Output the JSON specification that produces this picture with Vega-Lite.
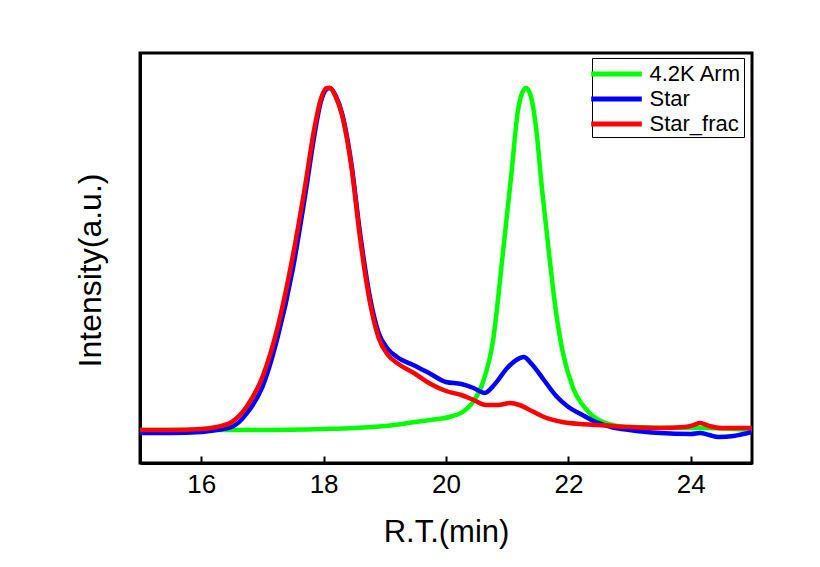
{
  "$schema": "https://vega.github.io/schema/vega-lite/v6.json",
  "width": 612,
  "height": 410,
  "autosize": "none",
  "padding": {"left": 140, "top": 53, "right": 68, "bottom": 104},
  "background": "white",
  "config": {
    "view": {"stroke": "black", "strokeWidth": 3},
    "font": "Liberation Sans"
  },
  "data": {
    "values": [
      {"t": 15.0, "s": "4.2K Arm", "v": 33},
      {"t": 16.0, "s": "4.2K Arm", "v": 33},
      {"t": 17.0, "s": "4.2K Arm", "v": 33},
      {"t": 18.0, "s": "4.2K Arm", "v": 34},
      {"t": 18.5, "s": "4.2K Arm", "v": 35},
      {"t": 19.0, "s": "4.2K Arm", "v": 37},
      {"t": 19.5, "s": "4.2K Arm", "v": 41},
      {"t": 19.75, "s": "4.2K Arm", "v": 43},
      {"t": 20.05, "s": "4.2K Arm", "v": 46},
      {"t": 20.27, "s": "4.2K Arm", "v": 51},
      {"t": 20.43, "s": "4.2K Arm", "v": 60},
      {"t": 20.6, "s": "4.2K Arm", "v": 80},
      {"t": 20.77, "s": "4.2K Arm", "v": 123},
      {"t": 20.93, "s": "4.2K Arm", "v": 210},
      {"t": 21.07, "s": "4.2K Arm", "v": 290},
      {"t": 21.17, "s": "4.2K Arm", "v": 350},
      {"t": 21.25, "s": "4.2K Arm", "v": 371},
      {"t": 21.31, "s": "4.2K Arm", "v": 375},
      {"t": 21.38, "s": "4.2K Arm", "v": 368},
      {"t": 21.47, "s": "4.2K Arm", "v": 336},
      {"t": 21.57, "s": "4.2K Arm", "v": 273},
      {"t": 21.69, "s": "4.2K Arm", "v": 206},
      {"t": 21.8, "s": "4.2K Arm", "v": 150},
      {"t": 21.9, "s": "4.2K Arm", "v": 113},
      {"t": 22.07, "s": "4.2K Arm", "v": 76},
      {"t": 22.3, "s": "4.2K Arm", "v": 53},
      {"t": 22.57, "s": "4.2K Arm", "v": 41},
      {"t": 23.0, "s": "4.2K Arm", "v": 36},
      {"t": 24.0, "s": "4.2K Arm", "v": 35},
      {"t": 24.15, "s": "4.2K Arm", "v": 35},
      {"t": 25.0, "s": "4.2K Arm", "v": 33},

      {"t": 15.0, "s": "Star", "v": 30},
      {"t": 15.5, "s": "Star", "v": 30},
      {"t": 16.0, "s": "Star", "v": 31},
      {"t": 16.25, "s": "Star", "v": 33},
      {"t": 16.5, "s": "Star", "v": 36},
      {"t": 16.75, "s": "Star", "v": 50},
      {"t": 17.0, "s": "Star", "v": 76},
      {"t": 17.25, "s": "Star", "v": 126},
      {"t": 17.5, "s": "Star", "v": 195},
      {"t": 17.7, "s": "Star", "v": 268},
      {"t": 17.85, "s": "Star", "v": 328},
      {"t": 17.95, "s": "Star", "v": 360},
      {"t": 18.05, "s": "Star", "v": 374},
      {"t": 18.1, "s": "Star", "v": 375},
      {"t": 18.2, "s": "Star", "v": 367},
      {"t": 18.3, "s": "Star", "v": 350},
      {"t": 18.45, "s": "Star", "v": 301},
      {"t": 18.6, "s": "Star", "v": 228},
      {"t": 18.75, "s": "Star", "v": 168},
      {"t": 18.9, "s": "Star", "v": 130},
      {"t": 19.05, "s": "Star", "v": 114},
      {"t": 19.2, "s": "Star", "v": 106},
      {"t": 19.5, "s": "Star", "v": 97},
      {"t": 19.75, "s": "Star", "v": 89},
      {"t": 20.0, "s": "Star", "v": 81},
      {"t": 20.25, "s": "Star", "v": 79},
      {"t": 20.45, "s": "Star", "v": 75},
      {"t": 20.63, "s": "Star", "v": 70},
      {"t": 20.8, "s": "Star", "v": 79},
      {"t": 21.0, "s": "Star", "v": 95},
      {"t": 21.15, "s": "Star", "v": 103},
      {"t": 21.27, "s": "Star", "v": 106},
      {"t": 21.4, "s": "Star", "v": 99},
      {"t": 21.6, "s": "Star", "v": 83},
      {"t": 21.8, "s": "Star", "v": 67},
      {"t": 22.0, "s": "Star", "v": 56},
      {"t": 22.2, "s": "Star", "v": 49},
      {"t": 22.45, "s": "Star", "v": 41},
      {"t": 22.7, "s": "Star", "v": 36},
      {"t": 23.0, "s": "Star", "v": 33},
      {"t": 23.5, "s": "Star", "v": 30},
      {"t": 24.0, "s": "Star", "v": 29},
      {"t": 24.15, "s": "Star", "v": 30},
      {"t": 24.3, "s": "Star", "v": 28},
      {"t": 24.45, "s": "Star", "v": 26},
      {"t": 24.7, "s": "Star", "v": 27},
      {"t": 25.0, "s": "Star", "v": 31},

      {"t": 15.0, "s": "Star_frac", "v": 33},
      {"t": 15.5, "s": "Star_frac", "v": 33},
      {"t": 16.0, "s": "Star_frac", "v": 34},
      {"t": 16.25, "s": "Star_frac", "v": 36},
      {"t": 16.5, "s": "Star_frac", "v": 41},
      {"t": 16.75, "s": "Star_frac", "v": 57},
      {"t": 17.0, "s": "Star_frac", "v": 86},
      {"t": 17.25, "s": "Star_frac", "v": 136},
      {"t": 17.5, "s": "Star_frac", "v": 208},
      {"t": 17.7, "s": "Star_frac", "v": 278},
      {"t": 17.85, "s": "Star_frac", "v": 335},
      {"t": 17.95, "s": "Star_frac", "v": 363},
      {"t": 18.05, "s": "Star_frac", "v": 375},
      {"t": 18.1, "s": "Star_frac", "v": 375},
      {"t": 18.2, "s": "Star_frac", "v": 366},
      {"t": 18.3, "s": "Star_frac", "v": 348},
      {"t": 18.45, "s": "Star_frac", "v": 298},
      {"t": 18.6, "s": "Star_frac", "v": 223},
      {"t": 18.75, "s": "Star_frac", "v": 163},
      {"t": 18.9, "s": "Star_frac", "v": 125},
      {"t": 19.05, "s": "Star_frac", "v": 108},
      {"t": 19.2, "s": "Star_frac", "v": 100},
      {"t": 19.5, "s": "Star_frac", "v": 89},
      {"t": 19.75, "s": "Star_frac", "v": 79},
      {"t": 20.0, "s": "Star_frac", "v": 72},
      {"t": 20.25, "s": "Star_frac", "v": 68},
      {"t": 20.45, "s": "Star_frac", "v": 63},
      {"t": 20.65, "s": "Star_frac", "v": 58},
      {"t": 20.85, "s": "Star_frac", "v": 58},
      {"t": 21.05, "s": "Star_frac", "v": 60},
      {"t": 21.2, "s": "Star_frac", "v": 58},
      {"t": 21.4, "s": "Star_frac", "v": 52},
      {"t": 21.6, "s": "Star_frac", "v": 46},
      {"t": 21.9, "s": "Star_frac", "v": 41},
      {"t": 22.2, "s": "Star_frac", "v": 39},
      {"t": 22.5, "s": "Star_frac", "v": 38},
      {"t": 23.0, "s": "Star_frac", "v": 36},
      {"t": 23.5, "s": "Star_frac", "v": 35},
      {"t": 23.9, "s": "Star_frac", "v": 36},
      {"t": 24.05, "s": "Star_frac", "v": 38},
      {"t": 24.15, "s": "Star_frac", "v": 40},
      {"t": 24.3, "s": "Star_frac", "v": 37},
      {"t": 24.5, "s": "Star_frac", "v": 35},
      {"t": 25.0, "s": "Star_frac", "v": 35}
    ]
  },
  "mark": {"type": "line", "interpolate": "monotone", "strokeWidth": 4.5, "clip": true},
  "encoding": {
    "x": {
      "field": "t",
      "type": "quantitative",
      "scale": {"domain": [15, 25], "nice": false, "zero": false},
      "axis": {
        "title": "R.T.(min)",
        "values": [16, 18, 20, 22, 24],
        "format": "d",
        "grid": false,
        "domainColor": "black",
        "domainWidth": 3,
        "tickColor": "black",
        "tickWidth": 2,
        "tickSize": -7,
        "labelFontSize": 26,
        "labelColor": "black",
        "labelPadding": 15,
        "labelFont": "Liberation Sans",
        "titleFont": "Liberation Sans",
        "titleFontSize": 31,
        "titleFontWeight": "normal",
        "titleColor": "black",
        "titlePadding": 20
      }
    },
    "y": {
      "field": "v",
      "type": "quantitative",
      "scale": {"domain": [0, 410], "nice": false},
      "axis": {
        "title": "Intensity(a.u.)",
        "labels": false,
        "ticks": false,
        "grid": false,
        "domainColor": "black",
        "domainWidth": 3,
        "titleFont": "Liberation Sans",
        "titleFontSize": 32,
        "titleFontWeight": "normal",
        "titleColor": "black",
        "titlePadding": 33,
        "titleY": 217
      }
    },
    "color": {
      "field": "s",
      "type": "nominal",
      "scale": {"domain": ["4.2K Arm", "Star", "Star_frac"], "range": ["#00ff00", "#0000ff", "#ff0000"]},
      "legend": {
        "title": null,
        "orient": "none",
        "legendX": 452,
        "legendY": 5,
        "strokeColor": "black",
        "fillColor": "white",
        "padding": 2,
        "symbolType": "M-2.2,0H2.2",
        "symbolSize": 529,
        "symbolStrokeWidth": 5,
        "symbolOffset": 8.5,
        "labelFontSize": 22,
        "labelFont": "Liberation Sans",
        "labelColor": "black",
        "labelOffset": 19,
        "rowPadding": -1
      }
    }
  }
}
